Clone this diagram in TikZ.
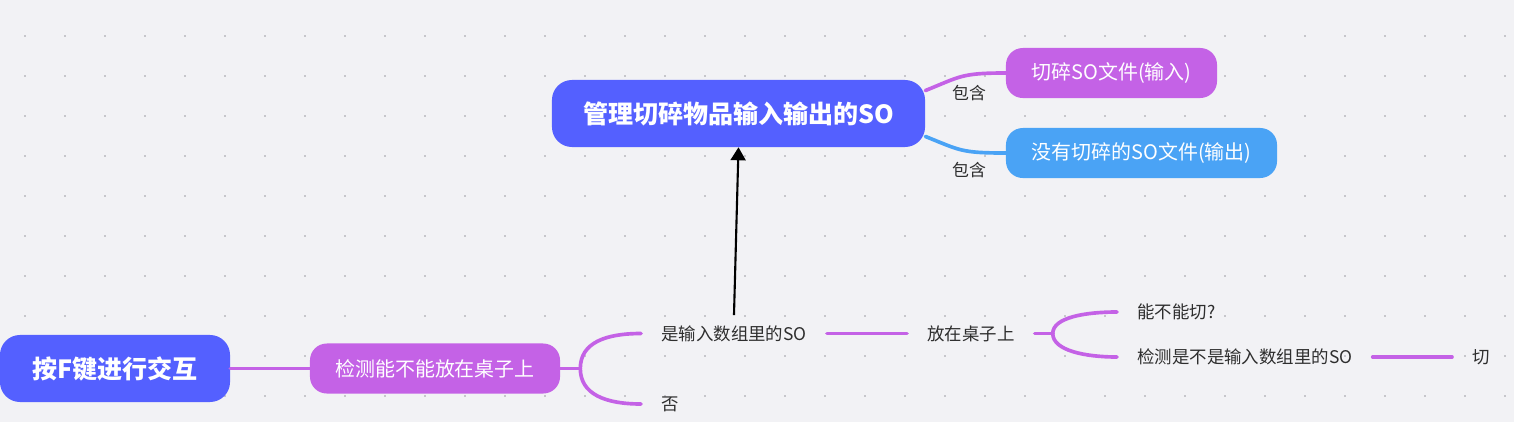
\documentclass[tikz,border=0pt]{standalone}
\usepackage{fontspec}
\setmainfont{Noto Sans CJK SC}
\usepackage{tikz}
\usetikzlibrary{arrows.meta, positioning}
\definecolor{bgGray}{HTML}{F2F2F5}
\definecolor{dotGray}{HTML}{C6C6CB}
\definecolor{topicBlue}{HTML}{5460FF}
\definecolor{subPurple}{HTML}{C462E6}
\definecolor{subBlue}{HTML}{4AA3F5}
\definecolor{leafText}{HTML}{2E2E2E}
\tikzset{
  topic/.style={fill=topicBlue, text=white, rounded corners=0.5cm, minimum height=1.675cm, inner sep=0, font=\fontsize{17.8}{20}\selectfont\bfseries},
  sub/.style={text=white, rounded corners=0.42cm, minimum height=1.25cm, inner sep=0, font=\fontsize{14.2}{17}\selectfont},
  leaf/.style={text=leafText, inner xsep=0.5cm, inner ysep=0, font=\fontsize{12.4}{15}\selectfont},
  tag/.style={text=leafText, inner sep=0, font=\fontsize{12}{14}\selectfont},
  branch/.style={draw=subPurple, line width=2.6pt, line cap=round},
}
\def\px{0.025cm}

\begin{document}
\begin{tikzpicture}[x=\px, y=-\px]
  \useasboundingbox (0,0) rectangle (1514,422);
  \fill[bgGray] (0,0) rectangle (1514,422);
  \foreach \i in {0,...,37}{
    \foreach \j in {0,...,9}{
      \fill[dotGray] ({23.8+40*\i},{34.8+40*\j}) rectangle ++(2.4,2.4);
    }
  }

  % top part
  \node[topic, minimum width=9.325cm] (mgr) at (738.5,113.5) {管理切碎物品输入输出的SO};
  \node[sub, fill=subPurple, minimum width=5.275cm] (inSO) at (1111.5,73) {切碎SO文件(输入)};
  \node[sub, fill=subBlue, minimum width=6.775cm] (outSO) at (1141.5,153) {没有切碎的SO文件(输出)};
  \draw[branch] (mgr.7) .. controls +(35,-14) and +(-45,0) .. (inSO.west);
  \draw[branch, draw=subBlue] (mgr.-7) .. controls +(35,14) and +(-45,0) .. (outSO.west);
  \node[tag] (tagIn) at (969,93) {包含};
  \node[tag] (tagOut) at (969,170) {包含};

  % bottom part
  \node[topic, minimum width=5.75cm] (keyF) at (115,368.5) {按F键进行交互};
  \node[sub, fill=subPurple, minimum width=6.25cm] (chk) at (435,368.5) {检测能不能放在桌子上};
  \node[leaf, anchor=west] (isIn) at (641,333.5) {是输入数组里的SO};
  \node[leaf, anchor=west] (notIn) at (641,404) {否};
  \node[leaf, anchor=west] (onTable) at (907,333.5) {放在桌子上};
  \node[leaf, anchor=west] (canCut) at (1117,312) {能不能切?};
  \node[leaf, anchor=west] (chkIn) at (1117,357) {检测是不是输入数组里的SO};
  \node[leaf] (cutIt) at (1481,357) {切};

  \draw[branch] (keyF.east) -- (chk.west);
  \draw[branch] (chk.east) -- ++(20,0) coordinate (forkA);
  \draw[branch] (forkA) .. controls +(0,-26) and +(-35,0) .. (isIn.west);
  \draw[branch] (forkA) .. controls +(0,26) and +(-35,0) .. (notIn.west);
  \draw[branch] (isIn.east) -- (onTable.west);
  \draw[branch] (onTable.east) -- ++(18,0) coordinate (forkB);
  \draw[branch] (forkB) .. controls +(0,-16) and +(-32,0) .. (canCut.west);
  \draw[branch] (forkB) .. controls +(0,17) and +(-32,0) .. (chkIn.west);
  \draw[branch] (chkIn.east) -- (cutIt.west);

  \draw[line width=1.5pt, -{Triangle[length=0.325cm, width=0.375cm]}] ([yshift=0.25cm]isIn.north) -- (mgr.south);
\end{tikzpicture}
\end{document}
